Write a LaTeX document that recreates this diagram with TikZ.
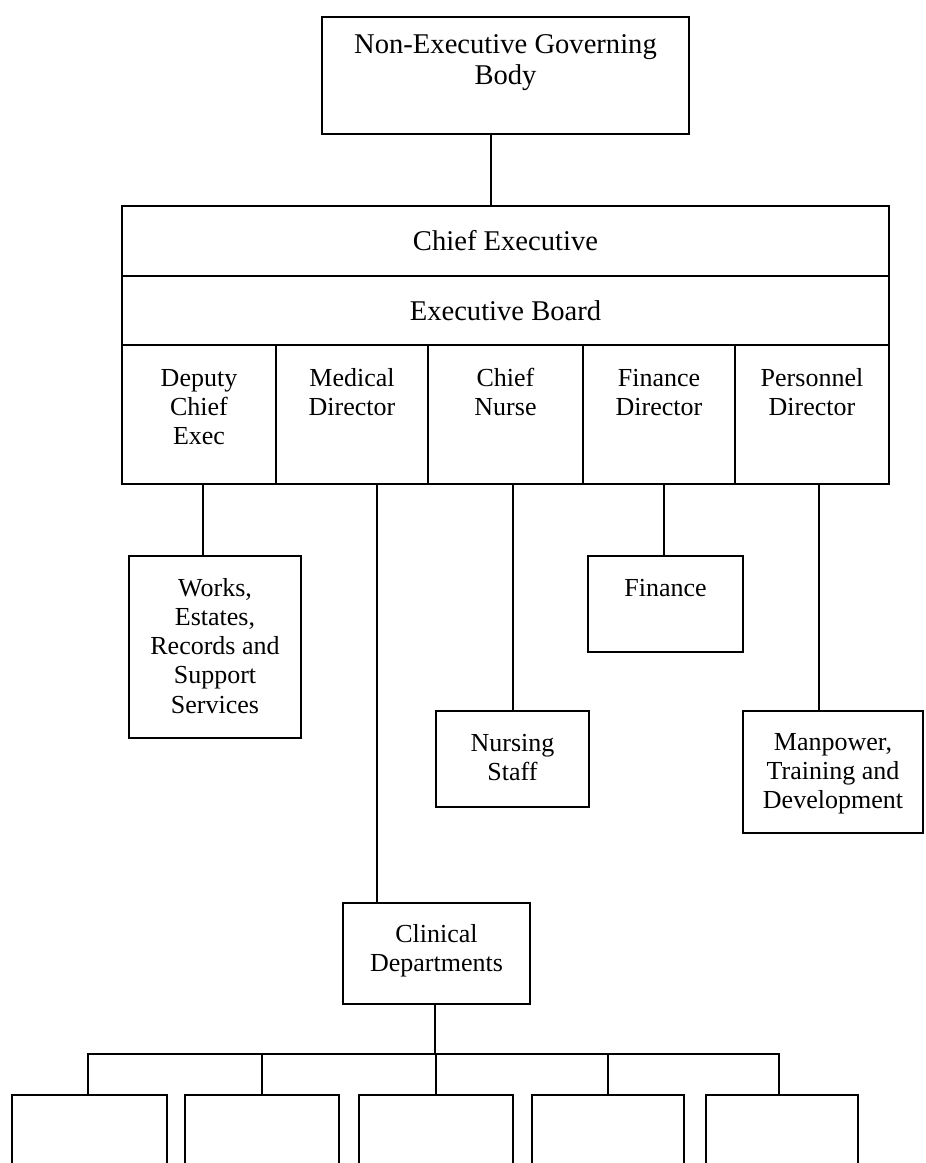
\documentclass[tikz,border=0pt]{standalone}
\usepackage{fontspec}
\setmainfont{Liberation Serif}
\newcommand\firstup{\rule{0pt}{20pt}}
\newcommand\firstupbig{\rule{0pt}{22pt}}
\begin{document}
\begin{tikzpicture}[x=1pt,y=-1pt,
  box/.style={draw, line width=2.4pt, inner sep=0pt},
  conn/.style={draw, line width=2.2pt},
  txt/.style={anchor=north, align=center, inner sep=0pt, font=\fontsize{26}{29.3}\selectfont},
  bigtxt/.style={anchor=north, align=center, inner sep=0pt, font=\fontsize{28.6}{31}\selectfont},
  rowtxt/.style={font=\fontsize{28.6}{31}\selectfont}]
\useasboundingbox (0,0) rectangle (926,1163);
\clip (0,0) rectangle (926,1163);
% top box
\node[box, minimum width=367pt, minimum height=117pt] (neg) at (505.5,75.5) {};
\node[bigtxt] (negt) at ([yshift=-15pt]neg.north) {\firstupbig Non-Executive Governing\\Body};
% executive block
\node[box, rowtxt, minimum width=767pt, minimum height=70pt] (ce) at (505.5,241) {Chief Executive};
\node[box, rowtxt, minimum width=767pt, minimum height=69pt] (eb) at (505.5,310.5) {Executive Board};
\node[box, minimum width=154pt, minimum height=139pt] (dep) at (199,414.5) {};
\node[box, minimum width=152pt, minimum height=139pt] (med) at (352,414.5) {};
\node[box, minimum width=155pt, minimum height=139pt] (nur) at (505.5,414.5) {};
\node[box, minimum width=152pt, minimum height=139pt] (fin) at (659,414.5) {};
\node[box, minimum width=154pt, minimum height=139pt] (per) at (812,414.5) {};
\node[txt] (dept) at ([yshift=-22pt]dep.north) {\firstup Deputy\\Chief\\Exec};
\node[txt] (medt) at ([yshift=-22pt]med.north) {\firstup Medical\\Director};
\node[txt] (nurt) at ([yshift=-22pt]nur.north) {\firstup Chief\\Nurse};
\node[txt] (fint) at ([yshift=-22pt]fin.north) {\firstup Finance\\Director};
\node[txt] (pert) at ([yshift=-22pt]per.north) {\firstup Personnel\\Director};
% second level boxes
\node[box, minimum width=172pt, minimum height=182pt] (works) at (215,647) {};
\node[txt] (workst) at ([yshift=-21pt]works.north) {\firstup Works,\\Estates,\\Records and\\Support\\Services};
\node[box, minimum width=153pt, minimum height=96pt] (nstaff) at (512.5,759) {};
\node[txt] (nstafft) at ([yshift=-21pt]nstaff.north) {\firstup Nursing\\Staff};
\node[box, minimum width=155pt, minimum height=96pt] (finance) at (665.5,604) {};
\node[txt] (financet) at ([yshift=-21pt]finance.north) {\firstup Finance};
\node[box, minimum width=180pt, minimum height=122pt] (man) at (833,772) {};
\node[txt] (mant) at ([yshift=-20pt]man.north) {\firstup Manpower,\\Training and\\Development};
\node[box, minimum width=187pt, minimum height=101pt] (clin) at (436.5,953.5) {};
\node[txt] (clint) at ([yshift=-20pt]clin.north) {\firstup Clinical\\Departments};
% clinical department boxes (cut by the page edge)
\node[box, minimum width=155pt, minimum height=150pt] (d1) at (89.5,1170) {};
\node[box, minimum width=154pt, minimum height=150pt] (d2) at (262,1170) {};
\node[box, minimum width=154pt, minimum height=150pt] (d3) at (436,1170) {};
\node[box, minimum width=152pt, minimum height=150pt] (d4) at (608,1170) {};
\node[box, minimum width=152pt, minimum height=150pt] (d5) at (782,1170) {};
% connectors
\draw[conn] ([xshift=-14.5pt]neg.south) -- ([xshift=-14.5pt]ce.north);
\draw[conn] ([xshift=4pt]dep.south) -- ([xshift=-12pt]works.north);
\draw[conn] ([xshift=25pt]med.south) -- ([xshift=-59.5pt]clin.north);
\draw[conn] ([xshift=7.5pt]nur.south) -- ([xshift=0.5pt]nstaff.north);
\draw[conn] ([xshift=5pt]fin.south) -- ([xshift=-1.5pt]finance.north);
\draw[conn] ([xshift=7pt]per.south) -- ([xshift=-14pt]man.north);
\coordinate (bus) at (435,1054);
\draw[conn] ([xshift=-1.5pt]clin.south) -- (bus);
\draw[conn] ([xshift=-1.5pt]d1.north) |- (bus) -| ([xshift=-3pt]d5.north);
\draw[conn] (d2.north) -- (d2.north |- bus);
\draw[conn] (d3.north) -- (d3.north |- bus);
\draw[conn] (d4.north) -- (d4.north |- bus);
\end{tikzpicture}
\end{document}
